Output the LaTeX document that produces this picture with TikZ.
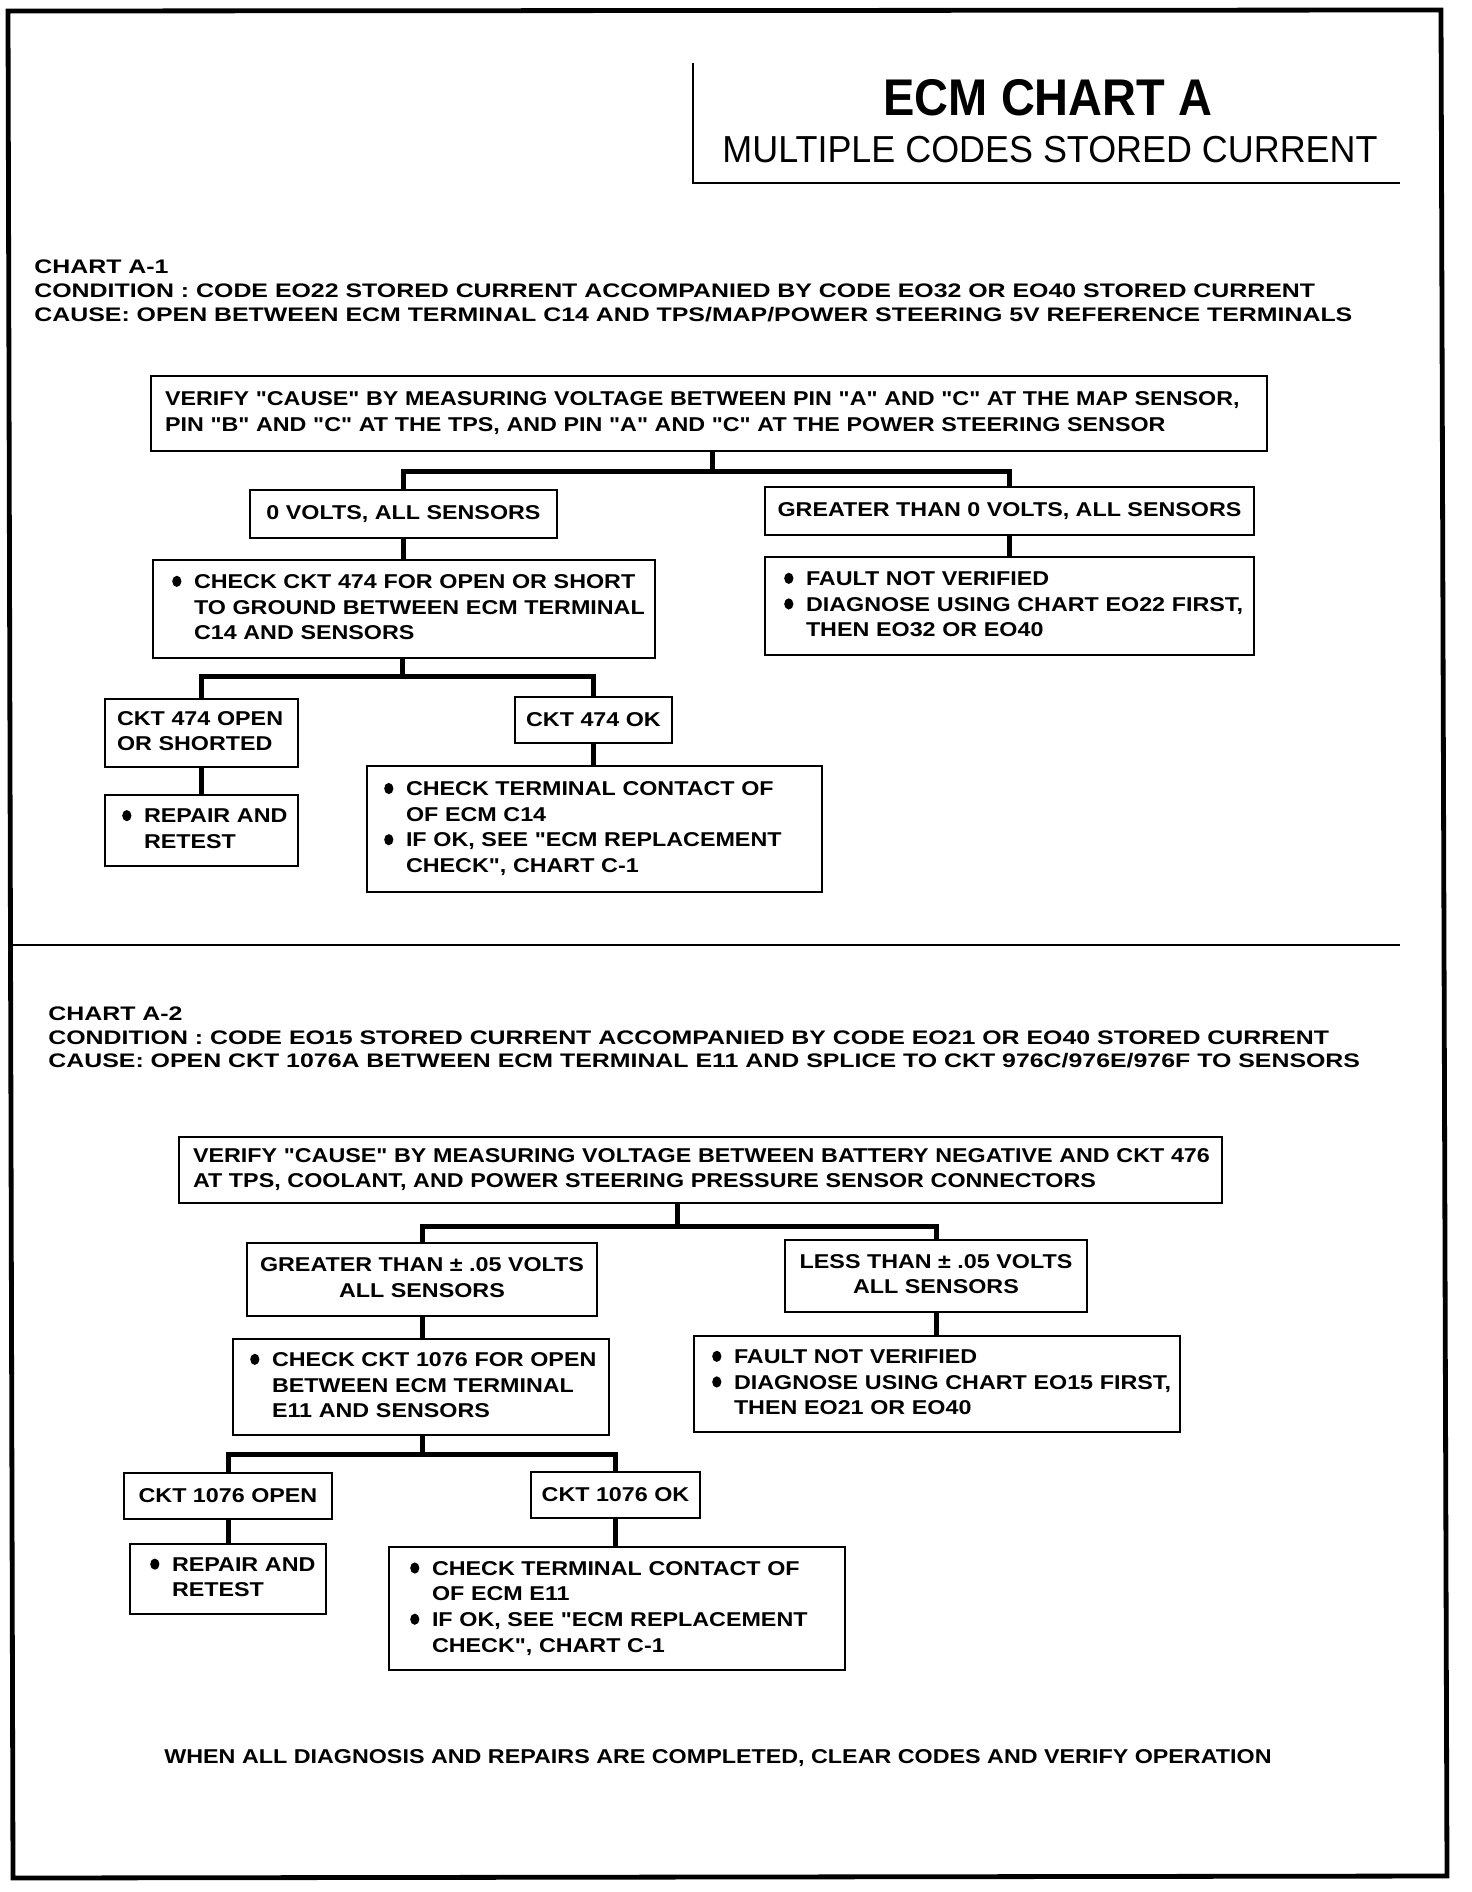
\documentclass[tikz,border=0pt]{standalone}
\usepackage{fontspec}
\setmainfont{Liberation Sans}
\newfontfamily\titlefam{Liberation Sans}[FakeStretch=0.91]
\newfontfamily\subfam{Liberation Sans}[FakeStretch=0.955]
\newfontfamily\hdrfam{Liberation Sans}[FakeStretch=1.27]
\newfontfamily\boxfam{Liberation Sans}[FakeStretch=1.165]
\newcommand\bxf{\boxfam\bfseries\fontsize{10}{12.8}\selectfont}
\newcommand\hdf{\hdrfam\bfseries\fontsize{9.8}{12}\selectfont}
\newcommand\bu{\tikz[baseline=0pt, x=1pt, y=1pt]{\path (0,0) rectangle (5,7); \fill (2.4,3.6) circle [x radius=2.3, y radius=2.8];}}
\tikzset{
  boxnode/.style={draw, rectangle, line width=1.3pt, inner ysep=0pt, font=\bxf},
  lbox/.style 2 args={boxnode, align=left, inner xsep=#1, text width=#2},
  cbox/.style 2 args={boxnode, align=center, inner xsep=0pt, minimum width=#1, minimum height=#2},
  conn/.style={line width=2.5pt, line cap=rect},
  hdr/.style={anchor=base west, inner sep=0pt, font=\hdf},
}
\begin{document}
\begin{tikzpicture}[x=0.5pt, y=-0.5pt]
\useasboundingbox (0,0) rectangle (1472,1892);
% outer frame
\draw[line width=2.4pt] (8,11) -- (1441,10) -- (1447,1876) -- (13,1878) -- cycle;
% title
\draw[line width=1.4pt] (693,63) -- (693,183) -- (1400,183);
\node[anchor=base, inner sep=0pt, font=\titlefam\bfseries\fontsize{25.8}{30}\selectfont] (title) at (1048,115) {ECM CHART A};
\node[anchor=base, inner sep=0pt, font=\subfam\fontsize{18.8}{22}\selectfont] (subtitle) at (1050,162) {MULTIPLE CODES STORED CURRENT};
% divider
\draw[line width=1.4pt] (10,945) -- (1400,945);

% ===== CHART A-1 =====
\node[hdr] (h1a) at (34,273) {CHART A-1};
\node[hdr] (h1b) at (34,297) {CONDITION : CODE EO22 STORED CURRENT ACCOMPANIED BY CODE EO32 OR EO40 STORED CURRENT};
\node[hdr] (h1c) at (34,321) {CAUSE: OPEN BETWEEN ECM TERMINAL C14 AND TPS/MAP/POWER STEERING 5V REFERENCE TERMINALS};

\node[lbox={7pt}{544pt}, minimum height=37.5pt] (v1) at (709,413.5)
 {\begin{tabular}{@{}l@{}}VERIFY "CAUSE" BY MEASURING VOLTAGE BETWEEN PIN "A" AND "C" AT THE MAP SENSOR,\\
 PIN "B" AND "C" AT THE TPS, AND PIN "A" AND "C" AT THE POWER STEERING SENSOR\end{tabular}};
\node[cbox={153.5pt}{24pt}] (zero) at (403.5,514) {0 VOLTS, ALL SENSORS};
\node[cbox={244.5pt}{24pt}] (great) at (1009.5,511) {GREATER THAN 0 VOLTS, ALL SENSORS};
\node[lbox={9.5pt}{232pt}, minimum height=49pt] (chk) at (404,609)
 {\begin{tabular}{@{}p{11pt}@{}l@{}}\bu & CHECK CKT 474 FOR OPEN OR SHORT\\
 & TO GROUND BETWEEN ECM TERMINAL\\ & C14 AND SENSORS\end{tabular}};
\node[lbox={9.5pt}{225.5pt}, minimum height=49pt] (fault) at (1009.5,606)
 {\begin{tabular}{@{}p{11pt}@{}l@{}}\bu & FAULT NOT VERIFIED\\
 \bu & DIAGNOSE USING CHART EO22 FIRST,\\ & THEN EO32 OR EO40\end{tabular}};
\node[lbox={6pt}{84.5pt}, minimum height=34pt] (open) at (201.5,733)
 {\begin{tabular}{@{}l@{}}CKT 474 OPEN\\ OR SHORTED\end{tabular}};
\node[cbox={78.5pt}{23pt}] (ok) at (593.5,720) {CKT 474 OK};
\node[lbox={8.5pt}{79.5pt}, minimum height=35.5pt] (rep) at (201.5,830.5)
 {\begin{tabular}{@{}p{11pt}@{}l@{}}\bu & REPAIR AND\\ & RETEST\end{tabular}};
\node[lbox={8.5pt}{210.5pt}, minimum height=63pt] (term) at (594.5,829)
 {\begin{tabular}{@{}p{11pt}@{}l@{}}\bu & CHECK TERMINAL CONTACT OF\\
 & OF ECM C14\\ \bu & IF OK, SEE "ECM REPLACEMENT\\ & CHECK", CHART C-1\end{tabular}};

\coordinate (b1) at (712,471);
\draw[conn] (v1.south -| b1) -- (b1);
\draw[conn] (zero.north) |- (b1) -| (great.north);
\draw[conn] (zero.south) -- (zero.south |- chk.north);
\draw[conn] (great.south) -- (great.south |- fault.north);
\coordinate (b2) at (402,676);
\draw[conn] (chk.south -| b2) -- (b2);
\draw[conn] (open.north) |- (b2) -| (ok.north);
\draw[conn] (open.south) -- (open.south |- rep.north);
\draw[conn] (ok.south) -- (ok.south |- term.north);

% ===== CHART A-2 =====
\node[hdr] (h2a) at (48,1020) {CHART A-2};
\node[hdr] (h2b) at (48,1044) {CONDITION : CODE EO15 STORED CURRENT ACCOMPANIED BY CODE EO21 OR EO40 STORED CURRENT};
\node[hdr] (h2c) at (48,1067) {CAUSE: OPEN CKT 1076A BETWEEN ECM TERMINAL E11 AND SPLICE TO CKT 976C/976E/976F TO SENSORS};

\node[lbox={7pt}{507.5pt}, minimum height=33pt] (v2) at (700.5,1170)
 {\begin{tabular}{@{}l@{}}VERIFY "CAUSE" BY MEASURING VOLTAGE BETWEEN BATTERY NEGATIVE AND CKT 476\\
 AT TPS, COOLANT, AND POWER STEERING PRESSURE SENSOR CONNECTORS\end{tabular}};
\node[cbox={175pt}{36.5pt}] (gr2) at (422,1279.5)
 {\begin{tabular}{@{}c@{}}GREATER THAN ± .05 VOLTS\\ ALL SENSORS\end{tabular}};
\node[cbox={151pt}{36pt}] (less) at (936,1276)
 {\begin{tabular}{@{}c@{}}LESS THAN ± .05 VOLTS\\ ALL SENSORS\end{tabular}};
\node[lbox={8.5pt}{171pt}, minimum height=48pt] (chk2) at (421,1387)
 {\begin{tabular}{@{}p{11pt}@{}l@{}}\bu & CHECK CKT 1076 FOR OPEN\\
 & BETWEEN ECM TERMINAL\\ & E11 AND SENSORS\end{tabular}};
\node[lbox={9pt}{225pt}, minimum height=48pt] (fault2) at (937,1384)
 {\begin{tabular}{@{}p{11pt}@{}l@{}}\bu & FAULT NOT VERIFIED\\
 \bu & DIAGNOSE USING CHART EO15 FIRST,\\ & THEN EO21 OR EO40\end{tabular}};
\node[cbox={104pt}{23pt}] (open2) at (228,1496) {CKT 1076 OPEN};
\node[cbox={84.5pt}{23pt}] (ok2) at (615.5,1495) {CKT 1076 OK};
\node[lbox={10pt}{78pt}, minimum height=35pt] (rep2) at (228,1579)
 {\begin{tabular}{@{}p{11pt}@{}l@{}}\bu & REPAIR AND\\ & RETEST\end{tabular}};
\node[lbox={10.5pt}{207pt}, minimum height=61.5pt] (term2) at (617,1608.5)
 {\begin{tabular}{@{}p{11pt}@{}l@{}}\bu & CHECK TERMINAL CONTACT OF\\
 & OF ECM E11\\ \bu & IF OK, SEE "ECM REPLACEMENT\\ & CHECK", CHART C-1\end{tabular}};

\coordinate (b3) at (677,1226);
\draw[conn] (v2.south -| b3) -- (b3);
\draw[conn] (gr2.north) |- (b3) -| (less.north);
\draw[conn] (gr2.south) -- (gr2.south |- chk2.north);
\draw[conn] (less.south) -- (less.south |- fault2.north);
\coordinate (b4) at (422,1454);
\draw[conn] (chk2.south -| b4) -- (b4);
\draw[conn] (open2.north) |- (b4) -| (ok2.north);
\draw[conn] (open2.south) -- (open2.south |- rep2.north);
\draw[conn] (ok2.south) -- (ok2.south |- term2.north);

% footer
\node[anchor=base, inner sep=0pt, font=\bxf] (foot) at (718,1763)
 {WHEN ALL DIAGNOSIS AND REPAIRS ARE COMPLETED, CLEAR CODES AND VERIFY OPERATION};
\end{tikzpicture}
\end{document}
